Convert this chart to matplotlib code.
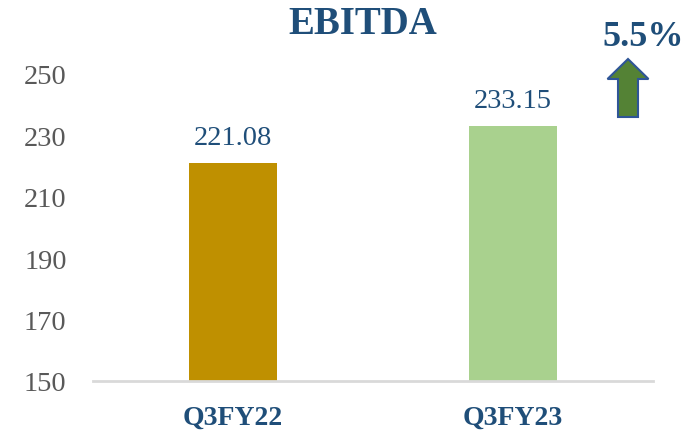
import matplotlib
matplotlib.use("Agg")
import matplotlib.pyplot as plt
from matplotlib.patches import FancyArrow

categories = ["Q3FY22", "Q3FY23"]
values = [221.08, 233.15]
bar_colors = ["#BF9000", "#A9D18E"]
yticks = [150, 170, 190, 210, 230, 250]
title = "EBITDA"
growth_label = "5.5%"

serif = ["Liberation Serif", "DejaVu Serif"]
blue = "#1F4E79"
gray = "#595959"

fig = plt.figure(figsize=(7, 4.35), dpi=100)
ax = fig.add_axes([93/700, 53/435, 560/700, 307/435])

x = list(range(len(categories)))
ax.bar(x, values, width=0.314, color=bar_colors, zorder=2)
ax.set_xlim(-0.5, len(categories) - 0.5)
ax.set_ylim(150, 250)
ax.set_yticks(yticks)
ax.set_yticklabels([str(t) for t in yticks], fontsize=20.5, color=gray, family=serif)
ax.set_xticks(x)
ax.set_xticklabels(categories, fontsize=20, fontweight="bold", color=blue, family=serif)
ax.tick_params(axis="both", length=0)
ax.tick_params(axis="y", pad=19)
ax.tick_params(axis="x", pad=17)
for s in ["top", "right", "left"]:
    ax.spines[s].set_visible(False)
ax.spines["bottom"].set_color("#D9D9D9")
ax.spines["bottom"].set_linewidth(2)

for xi, v in zip(x, values):
    ax.annotate(f"{v:.2f}", (xi, v), xytext=(0, 9), textcoords="offset points",
                ha="center", va="bottom", fontsize=20.5, color=blue, family=serif)

fig.text(363/700, 1 - 24/435, title, ha="center", va="center", fontsize=28,
         fontweight="bold", color=blue, family=serif)
fig.text(643/700, 1 - 37/435, growth_label, ha="center", va="center", fontsize=26,
         fontweight="bold", color=blue, family=serif)

# up arrow in figure coords
arrow = FancyArrow(628/700, 1 - 118/435, 0, 58/435, width=20/700, head_width=41/700,
                   head_length=20/435, length_includes_head=True,
                   transform=fig.transFigure, facecolor="#548235", edgecolor="#2F5597",
                   linewidth=1.5)
fig.patches.append(arrow)

fig.savefig("out.png", dpi=100)
